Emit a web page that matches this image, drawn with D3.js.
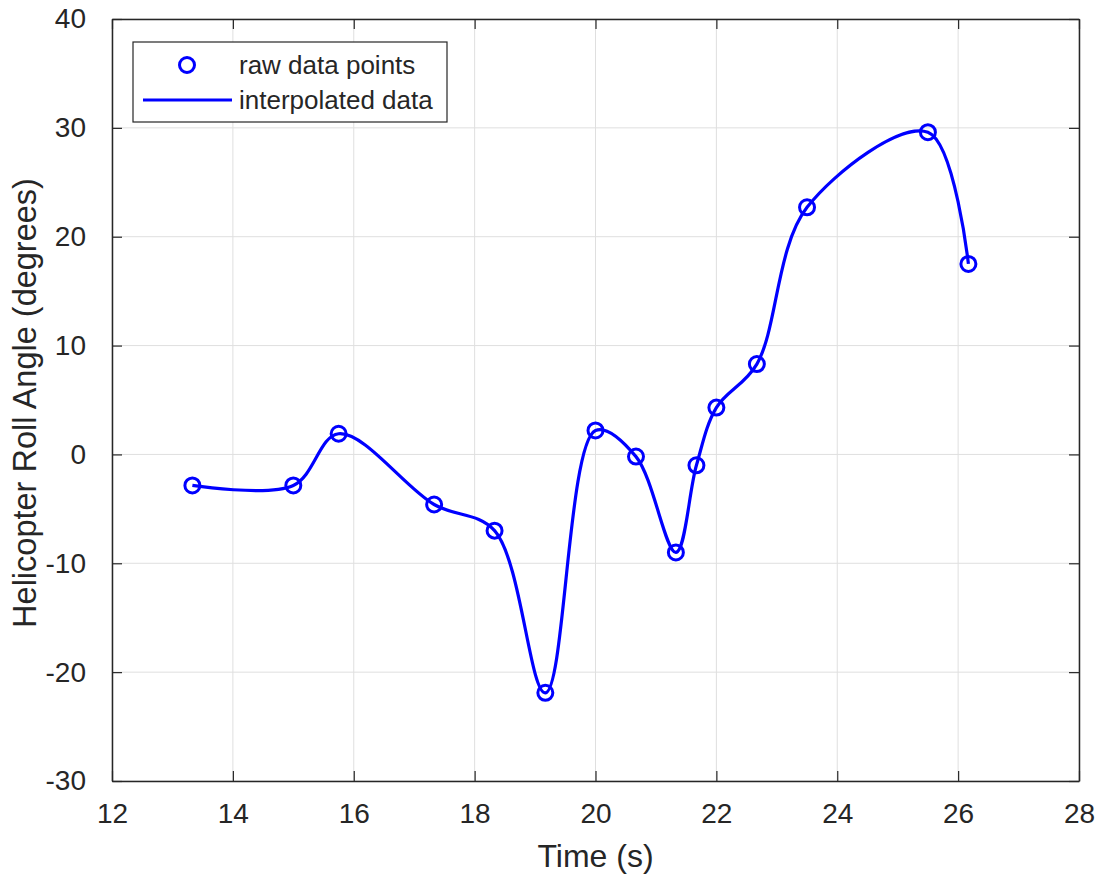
<!DOCTYPE html>
<html>
<head>
<meta charset="utf-8">
<script src="https://cdn.jsdelivr.net/npm/d3@7"></script>
<style>
  body { margin: 0; background: #fff; }
  svg { display: block; font-family: "Liberation Sans", Arial, sans-serif; }
</style>
</head>
<body>
<svg id="chart" width="1106" height="881"></svg>
<script>
// raw samples
var timeS = [13.33, 15.0, 15.75, 17.33, 18.33, 19.17, 20.0, 20.67, 21.33, 21.67, 22.0, 22.67, 23.5, 25.5, 26.17];
var rollDeg = [-2.85, -2.85, 1.9, -4.6, -7.0, -21.9, 2.2, -0.2, -9.0, -1.0, 4.3, 8.3, 22.7, 29.6, 17.5];

var xTicks = [12, 14, 16, 18, 20, 22, 24, 26, 28];
var yTicks = [-30, -20, -10, 0, 10, 20, 30, 40];
var legendLabels = ['raw data points', 'interpolated data'];

var blue = '#0000ff';
var axisCol = '#262626';

var svg = d3.select('#chart');
var pLeft = 112, pRight = 1079, pTop = 19, pBottom = 781;

var x = d3.scaleLinear().domain([12, 28]).range([pLeft, pRight]);
var y = d3.scaleLinear().domain([-30, 40]).range([pBottom, pTop]);

var pts = timeS.map(function(t, i) { return [t, rollDeg[i]]; });

// grid
var grid = svg.append('g');
grid.selectAll('.gx').data(xTicks).enter().append('line')
  .attr('x1', function(d) { return x(d); }).attr('x2', function(d) { return x(d); })
  .attr('y1', pTop).attr('y2', pBottom)
  .attr('stroke', '#dfdfdf').attr('stroke-width', 1);
grid.selectAll('.gy').data(yTicks).enter().append('line')
  .attr('y1', function(d) { return y(d); }).attr('y2', function(d) { return y(d); })
  .attr('x1', pLeft).attr('x2', pRight)
  .attr('stroke', '#dfdfdf').attr('stroke-width', 1);

// axes: ticks point inward, box all around
var fmt = function(d) { return String(d); };
var tickLen = 10;
var xAxisB = d3.axisBottom(x).tickValues(xTicks).tickFormat(fmt).tickSizeInner(-tickLen).tickSizeOuter(0).tickPadding(22);
var xAxisT = d3.axisTop(x).tickValues(xTicks).tickFormat('').tickSizeInner(-tickLen).tickSizeOuter(0);
var yAxisL = d3.axisLeft(y).tickValues(yTicks).tickFormat(fmt).tickSizeInner(-tickLen).tickSizeOuter(0).tickPadding(26);
var yAxisR = d3.axisRight(y).tickValues(yTicks).tickFormat('').tickSizeInner(-tickLen).tickSizeOuter(0);

function styleAxis(g) {
  g.select('.domain').attr('stroke', axisCol).attr('stroke-width', 1.5);
  g.selectAll('.tick line').attr('stroke', axisCol).attr('stroke-width', 1.2);
  g.selectAll('.tick text').attr('fill', axisCol).style('font-size', '28px')
    .style('font-family', '"Liberation Sans", Arial, sans-serif');
}

svg.append('g').attr('transform', 'translate(0,' + pBottom + ')').call(xAxisB).call(styleAxis);
svg.append('g').attr('transform', 'translate(0,' + pTop + ')').call(xAxisT).call(styleAxis);
svg.append('g').attr('transform', 'translate(' + pLeft + ',0)').call(yAxisL).call(styleAxis);
svg.append('g').attr('transform', 'translate(' + pRight + ',0)').call(yAxisR).call(styleAxis);

// axis labels
svg.append('text')
  .attr('x', (pLeft + pRight) / 2).attr('y', 867)
  .attr('text-anchor', 'middle').attr('fill', axisCol)
  .style('font-size', '32px')
  .text('Time (s)');
svg.append('text')
  .attr('transform', 'translate(36,403) rotate(-90)')
  .attr('text-anchor', 'middle').attr('fill', axisCol)
  .style('font-size', '32.5px')
  .text('Helicopter Roll Angle (degrees)');

// interpolated curve through the raw samples
var line = d3.line()
  .x(function(d) { return x(d[0]); })
  .y(function(d) { return y(d[1]); })
  .curve(d3.curveCatmullRom.alpha(0.5));

svg.append('path').datum(pts)
  .attr('d', line)
  .attr('fill', 'none').attr('stroke', blue).attr('stroke-width', 3.2);

svg.selectAll('.pt').data(pts).enter().append('circle')
  .attr('cx', function(d) { return x(d[0]); })
  .attr('cy', function(d) { return y(d[1]); })
  .attr('r', 7.5)
  .attr('fill', 'none').attr('stroke', blue).attr('stroke-width', 3);

// legend
var lg = svg.append('g');
lg.append('rect').attr('x', 133).attr('y', 42).attr('width', 314).attr('height', 80)
  .attr('fill', '#fff').attr('stroke', axisCol).attr('stroke-width', 1.2);
lg.append('circle').attr('cx', 187).attr('cy', 65).attr('r', 7.5)
  .attr('fill', 'none').attr('stroke', blue).attr('stroke-width', 3);
lg.append('line').attr('x1', 143).attr('x2', 232).attr('y1', 100).attr('y2', 100)
  .attr('stroke', blue).attr('stroke-width', 3.2);
lg.selectAll('.lt').data(legendLabels).enter().append('text')
  .attr('x', 239)
  .attr('y', function(d, i) { return 65 + i * 35; })
  .attr('dy', '0.35em')
  .attr('fill', axisCol)
  .style('font-size', '26px')
  .text(function(d) { return d; });
</script>
</body>
</html>
